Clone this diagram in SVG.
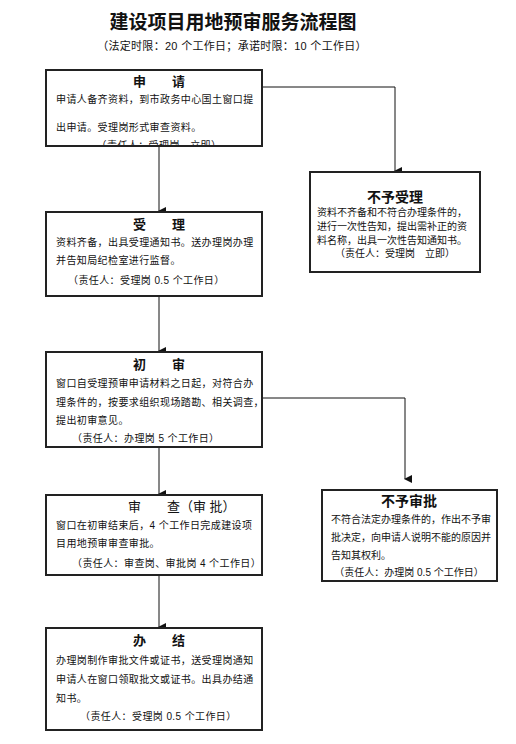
<svg xmlns="http://www.w3.org/2000/svg" width="516" height="744" viewBox="0 0 516 744">
<style>
.box{fill:#fff;stroke:#222;stroke-width:2}
.t{font-family:"Liberation Sans","Noto Sans CJK SC",sans-serif;fill:#111}
.b{font-size:10px;letter-spacing:0.4px}
.s{font-size:10px}
.h{font-size:13px;font-weight:bold}
.c{stroke:#111;stroke-width:1;fill:none}
</style>
<defs>
<marker id="ar" markerWidth="8" markerHeight="8" refX="4" refY="7" orient="auto" markerUnits="userSpaceOnUse" viewBox="0 0 8 8">
<path d="M0,0 L8,0 L4,8 Z" fill="#111"/>
</marker>
<clipPath id="cp1"><rect x="46" y="70" width="216" height="75"/></clipPath>
</defs>
<g id="title">
<text class="t" x="233" y="29" text-anchor="middle" font-size="19" font-weight="bold">建设项目用地预审服务流程图</text>
<text class="t" x="232" y="50" text-anchor="middle" font-size="11" fill="#333" letter-spacing="0.3">（法定时限：20 个工作日；承诺时限：10 个工作日）</text>
</g>
<g id="connectors">
<path class="c" d="M159,146 V211" marker-end="url(#ar)"/>
<path class="c" d="M159,296 V351" marker-end="url(#ar)"/>
<path class="c" d="M159,447 V494" marker-end="url(#ar)"/>
<path class="c" d="M159,575 V627" marker-end="url(#ar)"/>
<path class="c" d="M262,87 H395 V171" marker-end="url(#ar)"/>
<path class="c" d="M262,398 H405 V479" marker-end="url(#ar)"/>
</g>
<g id="n1">
<rect class="box" x="46" y="70" width="216" height="76"/>
<text class="t h" x="159" y="86" text-anchor="middle">申　　请</text>
<g clip-path="url(#cp1)">
<text class="t b" x="56" y="103">申请人备齐资料，到市政务中心国土窗口提</text>
<text class="t b" x="56" y="131">出申请。受理岗形式审查资料。</text>
<text class="t b" x="159" y="149" text-anchor="middle">（责任人：受理岗　立即）</text>
</g>
</g>
<g id="n2">
<rect class="box" x="46" y="212" width="216" height="84"/>
<text class="t h" x="159" y="229" text-anchor="middle">受　　理</text>
<text class="t b" x="56" y="246">资料齐备，出具受理通知书。送办理岗办理</text>
<text class="t b" x="56" y="264">并告知局纪检室进行监督。</text>
<text class="t b" x="68" y="284">（责任人：受理岗 0.5 个工作日）</text>
</g>
<g id="n3">
<rect class="box" x="46" y="352" width="216" height="95"/>
<text class="t h" x="159" y="369" text-anchor="middle">初　　审</text>
<text class="t b" x="56" y="387">窗口自受理预审申请材料之日起，对符合办</text>
<text class="t b" x="56" y="406">理条件的，按要求组织现场踏勘、相关调查，</text>
<text class="t b" x="56" y="424">提出初审意见。</text>
<text class="t b" x="72" y="442">（责任人：办理岗 5 个工作日）</text>
</g>
<g id="n4">
<rect class="box" x="46" y="495" width="216" height="80"/>
<text class="t" x="128" y="511" font-size="13">审　　查（审 批）</text>
<text class="t b" x="56" y="529">窗口在初审结束后，4 个工作日完成建设项</text>
<text class="t b" x="56" y="547">目用地预审审查审批。</text>
<text class="t b" x="72" y="567">（责任人：审查岗、审批岗 4 个工作日）</text>
</g>
<g id="n5">
<rect class="box" x="46" y="628" width="216" height="102"/>
<text class="t h" x="159" y="645" text-anchor="middle">办　　结</text>
<text class="t b" x="56" y="664">办理岗制作审批文件或证书，送受理岗通知</text>
<text class="t b" x="56" y="683">申请人在窗口领取批文或证书。出具办结通</text>
<text class="t b" x="56" y="702">知书。</text>
<text class="t b" x="80" y="720">（责任人：受理岗 0.5 个工作日）</text>
</g>
<g id="n6">
<rect class="box" x="310" y="172" width="170" height="100"/>
<text class="t" x="395" y="202" text-anchor="middle" font-size="14" font-weight="bold">不予受理</text>
<text class="t s" x="317" y="216">资料不齐备和不符合办理条件的，</text>
<text class="t s" x="317" y="230">进行一次性告知，提出需补正的资</text>
<text class="t s" x="317" y="244">料名称，出具一次性告知通知书。</text>
<text class="t s" x="395" y="257" text-anchor="middle">（责任人：受理岗　立即）</text>
</g>
<g id="n7">
<rect class="box" x="322" y="490" width="175" height="91"/>
<text class="t" x="409" y="506" text-anchor="middle" font-size="14" font-weight="bold">不予审批</text>
<text class="t s" x="331" y="523">不符合法定办理条件的，作出不予审</text>
<text class="t s" x="331" y="541">批决定，向申请人说明不能的原因并</text>
<text class="t s" x="331" y="559">告知其权利。</text>
<text class="t s" x="409" y="576" text-anchor="middle">（责任人：办理岗 0.5 个工作日）</text>
</g>
</svg>
